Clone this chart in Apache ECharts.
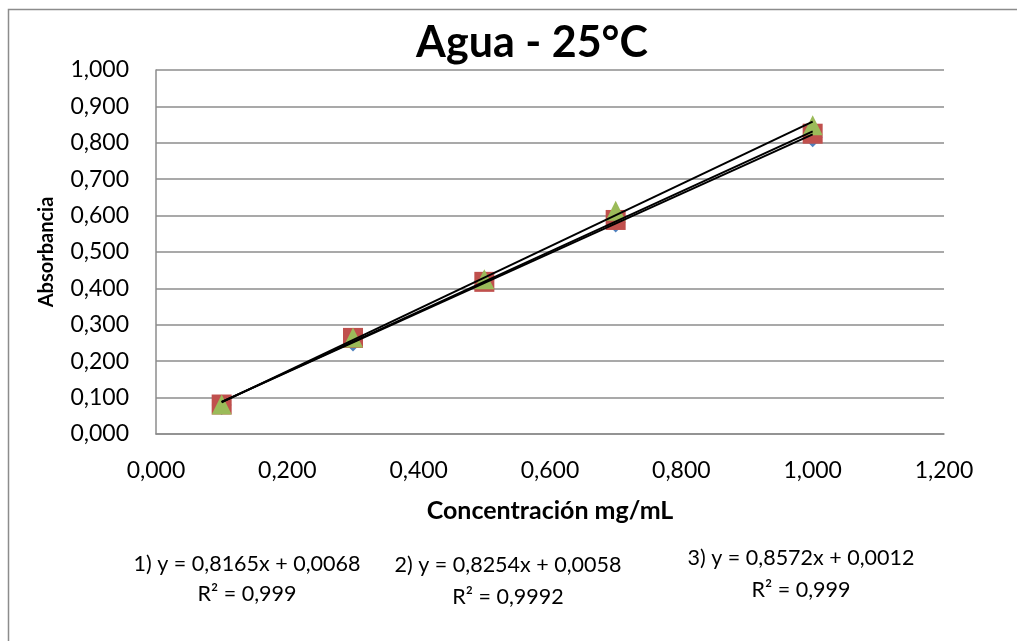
<!DOCTYPE html>
<html>
<head>
<meta charset="utf-8">
<title>Agua - 25°C</title>
<script src="https://cdn.jsdelivr.net/npm/echarts@6/dist/echarts.min.js"></script>
<style>
  html, body { margin: 0; padding: 0; background: #fff; }
  #chart { width: 1017px; height: 641px; }
</style>
</head>
<body>
<div id="chart"></div>
<script>
// Concentration (mg/mL) of the standards
const concentracion = [0.1, 0.3, 0.5, 0.7, 1.0];

// Measured absorbance, three replicates
const absorbancia1 = [0.080, 0.254, 0.421, 0.581, 0.815];
const absorbancia2 = [0.081, 0.264, 0.418, 0.588, 0.825];
const absorbancia3 = [0.081, 0.265, 0.425, 0.613, 0.848];

// Linear fits reported for each replicate: slope, intercept, R²
const pendientes = [0.8165, 0.8254, 0.8572];
const intercepciones = [0.0068, 0.0058, 0.0012];
const r2 = ['0,999', '0,9992', '0,999'];

// Fit range covers the measured concentrations
const ajusteX = [0.1, 1.0];

const FONT = 'Lato, "Open Sans", "Liberation Sans", sans-serif';
const coma = (v, d) => v.toFixed(d).replace('.', ',');

const pares = ys => concentracion.map((x, i) => [x, ys[i]]);
const recta = k => ajusteX.map(x => [x, pendientes[k] * x + intercepciones[k]]);

const ecuaciones = pendientes.map((m, k) =>
  `${k + 1}) y = ${coma(m, 4)}x + ${coma(intercepciones[k], 4)}`);

const chart = echarts.init(document.getElementById('chart'), null, { renderer: 'canvas' });

const marcador = (name, symbol, color, data, z) => ({
  name, type: 'scatter', symbol, symbolSize: 20, data, z,
  itemStyle: { color, opacity: 1 },
  emphasis: { disabled: true }
});

const tendencia = k => ({
  type: 'line', data: recta(k), symbol: 'none', z: 10,
  lineStyle: { color: '#000', width: 2 },
  emphasis: { disabled: true }
});

// Equation blocks under the plot
const bloques = [
  { cx: 247, y1: 564, y2: 594 },
  { cx: 508, y1: 565, y2: 597 },
  { cx: 801, y1: 558, y2: 590 }
];
const textos = [];
bloques.forEach((b, k) => {
  textos.push({ type: 'text', style: { x: b.cx, y: b.y1, text: ecuaciones[k], fill: '#000',
    font: `21.5px ${FONT}`, textAlign: 'center', textVerticalAlign: 'middle' } });
  textos.push({ type: 'text', style: { x: b.cx, y: b.y2, text: `R² = ${r2[k]}`, fill: '#000',
    font: `21.5px ${FONT}`, textAlign: 'center', textVerticalAlign: 'middle' } });
});

chart.setOption({
  backgroundColor: '#fff',
  animation: false,
  grid: { left: 156, right: 73, top: 70, bottom: 207 },
  xAxis: {
    type: 'value', min: 0, max: 1.2, interval: 0.2,
    name: 'Concentración mg/mL', nameLocation: 'middle', nameGap: 64,
    nameTextStyle: { fontFamily: FONT, fontWeight: 'bold', fontSize: 25, color: '#000' },
    axisLine: { show: true, lineStyle: { color: '#8c8c8c', width: 1.5 } },
    axisTick: { show: false },
    splitLine: { show: false },
    axisLabel: { formatter: v => coma(v, 3), margin: 25, fontFamily: FONT, fontSize: 23, color: '#000' }
  },
  yAxis: {
    type: 'value', min: 0, max: 1, interval: 0.1,
    name: 'Absorbancia', nameLocation: 'middle', nameGap: 99,
    nameTextStyle: { fontFamily: FONT, fontWeight: 'bold', fontSize: 20, color: '#000' },
    axisLine: { show: true, lineStyle: { color: '#8c8c8c', width: 1.5 } },
    axisTick: { show: false },
    splitLine: { show: true, lineStyle: { color: '#8c8c8c', width: 1.5 } },
    axisLabel: { formatter: v => coma(v, 3), margin: 27, fontFamily: FONT, fontSize: 23, color: '#000' }
  },
  series: [
    marcador('1', 'diamond', '#4F81BD', pares(absorbancia1), 3),
    marcador('2', 'rect', '#C0504D', pares(absorbancia2), 4),
    marcador('3', 'triangle', '#9BBB59', pares(absorbancia3), 5),
    tendencia(0), tendencia(1), tendencia(2)
  ],
  graphic: [
    { type: 'rect', shape: { x: 8.5, y: 9.5, width: 1030, height: 660 }, silent: true,
      style: { fill: null, stroke: '#8c8c8c', lineWidth: 1.5 } },
    { type: 'text', style: { x: 532, y: 43, text: 'Agua - 25°C', fill: '#000',
      font: `bold 43px ${FONT}`, textAlign: 'center', textVerticalAlign: 'middle' } },
    ...textos
  ]
});
</script>
</body>
</html>
